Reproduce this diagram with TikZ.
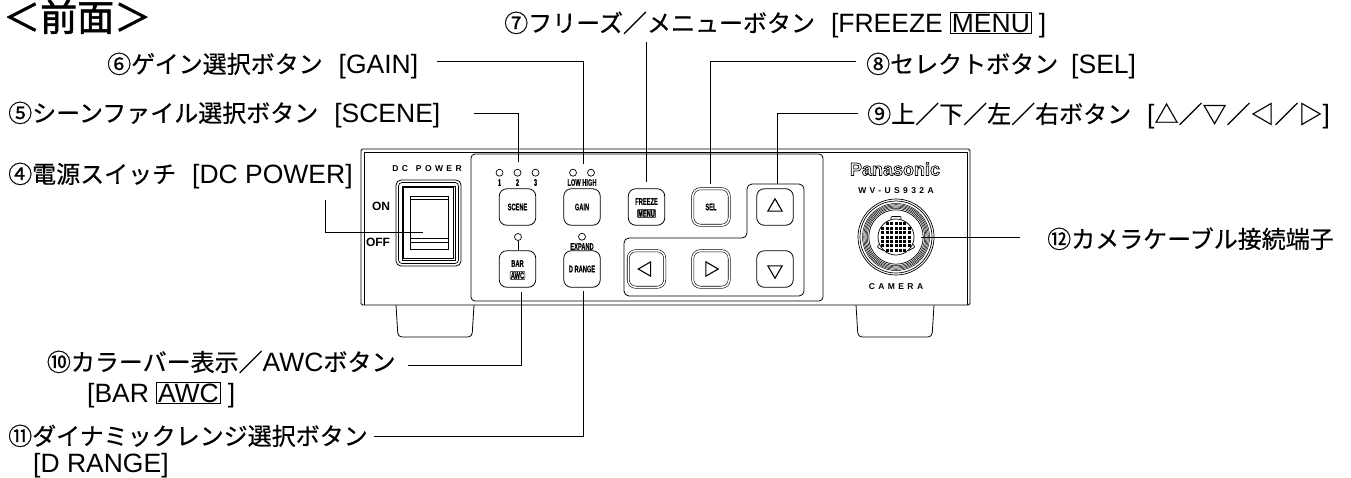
\documentclass[tikz,border=0pt]{standalone}
\usepackage{fontspec}
\setmainfont{Liberation Sans}
\newfontfamily\jpfont[FakeBold=0.5]{Noto Sans CJK JP}
\newfontfamily\titlefont[FakeBold=1.5]{Noto Sans CJK JP}
\newfontfamily\condfont[FakeStretch=0.6, FakeBold=0.3]{Liberation Sans Bold}
\newfontfamily\widefont[LetterSpace=40]{Liberation Sans Bold}
\usetikzlibrary{shapes.geometric}
\newcommand{\jp}[1]{{\fontsize{24}{30}\selectfont\jpfont #1}}
\newcommand{\boxtxt}[1]{{\setlength{\fboxsep}{1pt}\setlength{\fboxrule}{.6pt}\fbox{#1}}}
\tikzset{
  lab/.style={anchor=base west, inner sep=0pt, font=\fontsize{26.5}{30}\selectfont},
  leader/.style={line width=.9pt, line join=miter},
  btn/.style={draw, rounded corners=7.5pt, minimum size=36.5pt, inner sep=0pt, line width=.8pt},
  dbl/.style={btn, double, double distance=1.5pt, line width=.6pt},
  tiny/.style={inner sep=0pt, font=\fontsize{9.5}{10}\selectfont\condfont},
  wide/.style={inner sep=0pt, font=\fontsize{8.5}{9}\selectfont\widefont},
  led/.style={draw, circle, minimum size=7pt, inner sep=0pt, line width=.7pt},
  tri/.style={draw, regular polygon, regular polygon sides=3, minimum size=16.5pt, inner sep=0pt, line width=1.1pt},
  keycap/.style={tiny, draw, fill=gray!45, rounded corners=1pt, inner sep=.8pt, line width=.5pt},
}
\begin{document}
\begin{tikzpicture}[x=1pt, y=-1pt]
\useasboundingbox (0,0) rectangle (1351,477);

% feet
\draw [line width=.8pt, rounded corners=4pt] (396,305) -- (398,337) -- (472,337) -- (474,305);
\draw [line width=.8pt, rounded corners=4pt] (856,305) -- (858,337) -- (932,337) -- (934,305);

% body
\draw [line width=.8pt, fill=white, rounded corners=1.5pt] (361,305) rectangle (970,149);
\draw [line width=.7pt] (364,305) -- (364,152) -- (967,152) -- (967,305);
\draw [line width=.8pt, rounded corners=4pt] (471,154) rectangle (823,301);
\draw [line width=.8pt, rounded corners=5pt] (747,238) -- (747,184) -- (804,184) -- (804,296) -- (624,296) -- (624,238) -- cycle;

% switch
\draw [line width=.8pt, rounded corners=5pt] (396,180) rectangle (461,266);
\draw [line width=.7pt, rounded corners=3.5pt] (398.5,182.5) rectangle (458.5,263.5);
\draw [line width=.7pt] (402,186) rectangle (455,260);
\draw [line width=.7pt] (403.5,187.5) rectangle (453.5,258.5);
\draw [line width=.8pt] (410,196) rectangle (448,249);
\draw [line width=1pt] (410,199) -- (448,199);
\draw [line width=.8pt] (410,238) -- (448,238);
\draw [line width=.8pt] (410,242) -- (448,242);

\node [wide] (dcpower) at (427,169) {DC\hspace{8pt}POWER};
\node [inner sep=0pt, font=\fontsize{12}{13}\selectfont\bfseries] (on) at (381,206) {ON};
\node [inner sep=0pt, font=\fontsize{12}{13}\selectfont\bfseries] (off) at (378,242) {OFF};

% buttons
\node [btn] (scene)  at (517.5,207) {};
\node [btn] (gain)   at (582,207) {};
\node [btn] (freeze) at (646.5,207) {};
\node [dbl] (sel)    at (711,207) {};
\node [btn] (up)     at (775,207) {};
\node [btn] (bar)    at (517.5,269) {};
\node [btn] (drange) at (582,269) {};
\node [dbl] (left)   at (646.5,269) {};
\node [dbl] (right)  at (711,269) {};
\node [btn] (down)   at (775,269) {};

\node [tiny] (scenetxt) at (scene) {SCENE};
\node [tiny] (gaintxt) at (gain) {GAIN};
\node [tiny] (freezetxt) at (646.5,201.5) {FREEZE};
\node [keycap] (menutxt) at (646.5,213.5) {MENU};
\node [tiny] (seltxt) at (sel) {SEL};
\node [tiny] (bartxt) at (517.5,263.5) {BAR};
\node [keycap, fill=white] (awctxt) at (517.5,275.5) {AWC};
\node [tiny] (drangetxt) at (drange) {D RANGE};

\node [tri, shape border rotate=0] (uptri) at (up) {};
\node [tri, shape border rotate=180] (downtri) at (775,270) {};
\node [tri, shape border rotate=90] (lefttri) at (left) {};
\node [tri, shape border rotate=270] (righttri) at (710,269) {};

% leds
\foreach \x/\n in {499.5/1, 517.5/2, 535.5/3} {
  \node [led] (led\n) at (\x,172.7) {};
  \node [tiny] (num\n) at (\x,182.5) {\n};
}
\node [led] (ledlow) at (573,172.7) {};
\node [led] (ledhigh) at (591,172.7) {};
\node [tiny] (lowhigh) at (582,182.5) {LOW HIGH};
\node [led] (ledbar) at (518,237) {};
\draw [line width=.7pt] (ledbar.south) -- (518,250);
\node [led] (ledexp) at (582,236.7) {};
\node [tiny] (expand) at (582,246.5) {EXPAND};

% right side
\node [inner sep=0pt, font=\fontsize{18}{20}\selectfont\bfseries] (maker) at (895,169) {\special{pdf:code 1 Tr 0.7 w}Panasonic\special{pdf:code 0 Tr}};
\node [wide] (model) at (896,190.7) {WV-US932A};
\node [wide] (camera) at (896,287) {CAMERA};

\coordinate (jack) at (896,237);
\foreach \r/\w in {38/.7, 36/.7, 33.5/.5, 32.3/.5, 31.1/.5, 29.9/.5, 28.7/.5, 27.2/.7}
  \draw [line width=\w pt] (jack) circle (\r pt);
\draw [line width=.7pt, rounded corners=1pt] (891,220) -- (891,216.5) -- (901,216.5) -- (901,220);
\draw [line width=.7pt, fill=white, rounded corners=1pt] (881,242) -- (877,247) -- (884,251) -- cycle;
\draw [line width=.7pt, fill=white, rounded corners=1pt] (911,242) -- (915,247) -- (908,251) -- cycle;
\draw [line width=.7pt, fill=white] (jack) circle (18pt);
\foreach \i in {-3,...,3}
  \foreach \j in {-3,...,3} {
    \ifnum\numexpr\i*\i+\j*\j\relax<14
      \fill (896+\i*4.4-1.5,237+\j*4.4-1.5) rectangle ++(3,3);
    \fi
  }

% leaders
\coordinate (a4) at (325,200);  \coordinate (b4) at (423,232);
\coordinate (a5) at (474,113);  \coordinate (b5) at (518,162);
\coordinate (a6) at (437,61);   \coordinate (b6) at (583,164);
\coordinate (a7) at (646.7,42); \coordinate (b7) at (646.7,182);
\coordinate (a8) at (856,61);   \coordinate (b8) at (710,184);
\coordinate (a9) at (858,113);  \coordinate (b9) at (777,184);
\coordinate (a10) at (408,365); \coordinate (b10) at (521,292);
\coordinate (a11) at (374,436); \coordinate (b11) at (583,291);
\coordinate (a12) at (921,237); \coordinate (b12) at (1020,237);

\draw [leader] (a4) |- (b4);
\draw [leader] (a5) -| (b5);
\draw [leader] (a6) -| (b6);
\draw [leader] (a7) -- (b7);
\draw [leader] (a8) -| (b8);
\draw [leader] (a9) -| (b9);
\draw [leader] (a10) -| (b10);
\draw [leader] (a11) -| (b11);
\draw [leader] (a12) -- (b12);

% labels
\node [lab] (title) at (3,31) {\fontsize{37}{40}\selectfont\titlefont ＜前面＞};
\node [lab] (lab7) at (504,32) {\jp{⑦フリーズ／メニューボタン}\hspace{16pt}[FREEZE \boxtxt{MENU} ]};
\node [lab] (lab6) at (107,73) {\jp{⑥ゲイン選択ボタン}\hspace{16pt}[GAIN]};
\node [lab] (lab8) at (866,73) {\jp{⑧セレクトボタン}\hspace{13pt}[SEL]};
\node [lab] (lab5) at (8,122) {\jp{⑤シーンファイル選択ボタン}\hspace{16pt}[SCENE]};
\node [lab] (lab9) at (867,123) {\jp{⑨上／下／左／右ボタン}\hspace{16pt}[\jp{△／▽／◁／▷}]};
\node [lab] (lab4) at (8,183) {\jp{④電源スイッチ}\hspace{16pt}[DC POWER]};
\node [lab] (lab12) at (1047,248) {\jp{⑫カメラケーブル接続端子}};
\node [lab] (lab10) at (46.7,371) {\jp{⑩カラーバー表示／}AWC\jp{ボタン}};
\node [lab] (lab10b) at (87,402) {[BAR \boxtxt{AWC} ]};
\node [lab] (lab11) at (8,445) {\jp{⑪ダイナミックレンジ選択ボタン}};
\node [lab] (lab11b) at (33,472) {[D RANGE]};
\end{tikzpicture}
\end{document}
